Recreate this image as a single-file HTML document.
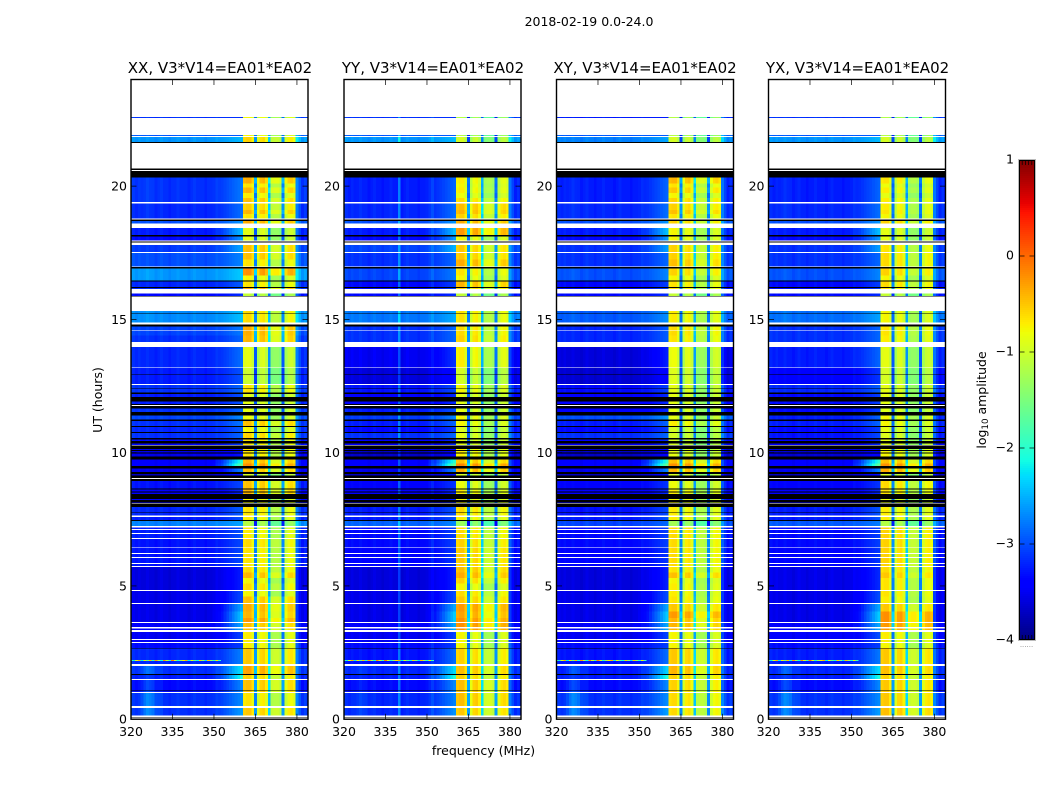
<!DOCTYPE html>
<html lang="en">
<head>
<meta charset="utf-8">
<title>2018-02-19 spectrogram</title>
<style>
html,body{margin:0;padding:0;background:#fff;}
svg{display:block;}
text{font-family:"DejaVu Sans","Liberation Sans",sans-serif;fill:#000;}
</style>
</head>
<body>
<svg id="fig" xmlns="http://www.w3.org/2000/svg" width="1050" height="800" viewBox="0 0 1050 800">
  <text x="589" y="26" font-size="12.5" text-anchor="middle">2018-02-19 0.0-24.0</text>
  <g id="panels"></g>
  <text x="220" y="73" font-size="15" text-anchor="middle">XX, V3*V14=EA01*EA02</text>
  <text x="433" y="73" font-size="15" text-anchor="middle">YY, V3*V14=EA01*EA02</text>
  <text x="645" y="73" font-size="15" text-anchor="middle">XY, V3*V14=EA01*EA02</text>
  <text x="857.5" y="73" font-size="15" text-anchor="middle">YX, V3*V14=EA01*EA02</text>
  <text x="483.5" y="755" font-size="12.5" text-anchor="middle">frequency (MHz)</text>
  <text transform="translate(102,400) rotate(-90)" font-size="12.5" text-anchor="middle">UT (hours)</text>
  <text transform="translate(986,400) rotate(-90)" font-size="12.5" text-anchor="middle">log<tspan font-size="8.7" dy="2">10</tspan><tspan dy="-2"> amplitude</tspan></text>
  <g id="colorbar"></g>
  <text x="1026.5" y="647" font-size="7" text-anchor="middle" style="fill:#888">......</text>
</svg>
<script>
// ---- axis data ----
const xTickLabels = [320, 335, 350, 365, 380];
const yTickLabels = [0, 5, 10, 15, 20];
const colorbarTicks = [1, 0, -1, -2, -3, -4];

// ---- channels (MHz) : offsets in log10 amplitude relative to the band level ----
const channelFreqs = [320,321,322,323,324,325,326,327,328,329,330,331,332,333,334,335,336,337,338,339,340,341,342,343,344,345,346,347,348,349,350,351,352,353,354,355,356,357,358,359,360,361,362,363,364,365,366,367,368,369,370,371,372,373,374,375,376,377,378,379,380,381,382,383,384];
const channelOffset = [0.1,0.05,0,0.05,0,0,0.05,0,0,-0.05,0,0.05,0,0,-0.05,0,0,0.05,0,0,0,-0.05,0,0.05,0,0,0,-0.05,0,0,0,0.05,0,0,0,0,0,0,0,0,0,0.05,0.1,0.1,-0.1,-2.0,-0.3,0,0.05,-0.15,-1.7,-0.45,-0.4,-0.4,-0.5,-2.0,-0.3,-0.1,-0.05,-0.15,0.45,0.2,0,0.1,0];
const shoulderShape = [0,0,0,0,0,0,0,0,0,0,0,0,0,0,0,0,0,0,0,0,0,0,0,0,0,0,0,0,0,0,0.05,0.1,0.15,0.2,0.3,0.4,0.5,0.6,0.7,0.8,0.9,0,0,0,0,0,0,0,0,0,0,0,0,0,0,0,0,0,0,0,0,0,0,0,0];
const glowShape = [0,0,0,0,0.25,0.5,0.6,0.6,0.5,0.3,0.2,0.1,0,0,0,0,0,0,0,0,0,0,0,0,0,0,0,0,0,0,0,0,0,0,0,0,0,0,0,0,0,0,0,0,0,0,0,0,0,0,0,0,0,0,0,0,0,0,0,0,0,0,0,0,0];
const rfiFirstMHz = 361;
const rfiLastMHz = 379;
const glowByPanel = [1, 0.3, 1, 1];
const yyBumpFreqs = [340, 352];
const yyBumpValues = [0.5, 0.15];
const bgShift = -0.15;
const rfiShift = -0.25;

// ---- time bands : each starts at bandTop (UT hours) and runs down to the next entry ----
const bandTop = [22.60,22.56,21.92,21.85,20.33,20.10,19.95,19.75,19.55,19.41,19.10,18.95,18.79,18.43,18.17,17.96,17.52,17.25,16.96,16.65,16.45,16.20,15.98,15.32,14.73,14.40,13.97,13.20,12.58,12.25,11.83,11.50,11.25,11.00,10.77,10.50,10.26,9.75,9.60,9.50,9.28,8.93,8.60,8.27,7.97,7.64,7.43,7.19,6.76,6.42,5.86,5.71,5.50,5.30,5.10,4.81,4.60,4.32,4.05,3.80,3.60,3.27,2.85,2.65,2.00,1.66,1.47,0.98,0.42];
const bandBottom = 0;
const bgXX = [-3.0,-3.0,-2.8,-2.5,-3.0,-3.0,-3.0,-3.0,-3.0,-3.05,-3.05,-3.05,-2.85,-3.1,-3.2,-2.95,-2.85,-2.85,-2.5,-2.5,-3.05,-3.05,-3.2,-2.55,-2.9,-3.0,-3.05,-3.1,-3.0,-3.1,-3.0,-2.9,-3.0,-3.05,-3.0,-3.2,-3.4,-3.3,-3.3,-3.4,-3.6,-3.15,-3.3,-3.3,-3.05,-3.1,-2.6,-3.1,-3.15,-3.15,-3.15,-3.45,-3.45,-3.45,-3.45,-3.4,-3.4,-3.4,-3.4,-3.4,-3.3,-3.35,-3.2,-3.05,-3.0,-3.1,-3.2,-3.0,-3.0];
const bgYY = [-3.0,-3.0,-2.8,-2.5,-3.1,-3.1,-3.1,-3.1,-3.1,-3.05,-3.05,-3.05,-2.85,-3.1,-3.2,-2.9,-3.0,-3.0,-2.9,-2.9,-3.2,-3.2,-3.2,-2.65,-3.0,-3.0,-3.35,-3.45,-3.15,-3.3,-3.1,-2.95,-3.1,-3.2,-3.0,-3.3,-3.55,-3.3,-3.3,-3.4,-3.6,-3.25,-3.3,-3.3,-3.1,-3.1,-2.75,-3.2,-3.2,-3.25,-3.25,-3.45,-3.45,-3.45,-3.45,-3.4,-3.4,-3.4,-3.4,-3.4,-3.3,-3.35,-3.2,-3.15,-3.05,-3.1,-3.2,-3.05,-3.05];
const bgXY = [-3.1,-3.1,-2.8,-2.6,-3.1,-3.1,-3.1,-3.1,-3.1,-3.05,-3.05,-3.05,-2.85,-3.1,-3.2,-3.0,-3.0,-3.0,-2.85,-2.85,-3.2,-3.2,-3.2,-2.8,-3.05,-3.05,-3.45,-3.5,-3.2,-3.3,-3.3,-2.85,-3.1,-3.2,-3.0,-3.3,-3.55,-3.3,-3.3,-3.4,-3.6,-3.25,-3.3,-3.3,-3.15,-3.1,-2.9,-3.2,-3.2,-3.25,-3.25,-3.45,-3.45,-3.45,-3.45,-3.4,-3.4,-3.4,-3.4,-3.4,-3.3,-3.35,-3.2,-3.15,-3.1,-3.1,-3.2,-3.0,-3.0];
const bgYX = [-3.0,-3.0,-2.8,-2.5,-3.1,-3.1,-3.1,-3.1,-3.1,-3.05,-3.05,-3.05,-2.85,-3.1,-3.2,-3.0,-3.0,-3.0,-2.85,-2.85,-3.2,-3.2,-3.2,-2.7,-3.0,-3.0,-3.1,-3.25,-3.05,-3.2,-3.2,-3.1,-3.1,-3.2,-3.15,-3.3,-3.5,-3.3,-3.3,-3.4,-3.6,-3.25,-3.3,-3.3,-3.1,-3.1,-2.8,-3.2,-3.2,-3.25,-3.25,-3.4,-3.4,-3.4,-3.4,-3.4,-3.4,-3.4,-3.4,-3.4,-3.3,-3.3,-3.2,-3.1,-3.05,-3.1,-3.2,-3.0,-3.0];
const rfiXX = [-0.6,-0.6,-0.6,-0.4,-0.2,-0.5,-0.25,-0.55,-0.3,-0.4,-0.25,-0.5,-0.2,-0.7,-0.7,-0.3,-0.3,-0.5,-0.05,-0.6,-0.5,-0.2,-0.9,-0.45,-0.2,-0.25,-0.7,-0.85,-0.5,-0.7,-0.7,-0.65,-0.3,-0.6,-0.4,-0.5,-0.5,-0.25,-0.05,-0.3,-0.8,-0.3,-0.25,-0.6,-0.5,-0.55,-1.0,-0.55,-0.45,-0.5,-0.5,-0.45,-0.25,-0.6,-0.45,-0.6,-0.3,-0.2,-0.25,-0.1,-0.3,-0.55,-0.55,-0.35,-0.15,-0.4,-0.3,-0.5,-0.35];
const rfiYY = [-1.0,-1.0,-1.0,-0.8,-0.55,-0.6,-0.55,-0.65,-0.45,-0.3,-0.25,-0.4,-0.2,-0.1,-0.6,-0.35,-0.35,-0.2,-0.5,-0.6,-0.25,-0.4,-0.9,-0.5,-0.45,-0.4,-0.55,-0.8,-0.6,-0.7,-0.7,-0.6,-0.6,-0.75,-0.7,-0.7,-0.55,-0.3,0,-0.2,-0.8,-0.65,-0.55,-0.6,-0.45,-0.55,-1.15,-0.45,-0.4,-0.35,-0.35,-0.3,-0.2,-0.4,-0.6,-0.45,-0.35,-0.1,-0.15,-0.05,-0.05,-0.6,-0.6,-0.4,-0.3,-0.4,-0.3,-0.3,-0.35];
const rfiXY = [-1.0,-1.0,-1.0,-0.8,-0.25,-0.5,-0.35,-0.6,-0.4,-0.4,-0.3,-0.5,-0.4,-0.6,-0.6,-0.4,-0.4,-0.3,-0.4,-0.6,-0.5,-0.5,-0.9,-0.55,-0.45,-0.5,-0.65,-0.75,-0.7,-0.7,-0.7,-0.7,-0.55,-0.8,-0.8,-0.8,-0.7,-0.3,-0.05,-0.25,-0.8,-0.65,-0.55,-0.6,-0.55,-0.55,-1.1,-0.45,-0.45,-0.45,-0.45,-0.5,-0.3,-0.6,-0.55,-0.55,-0.5,-0.35,-0.1,-0.25,-0.25,-0.6,-0.6,-0.35,-0.25,-0.4,-0.4,-0.45,-0.45];
const rfiYX = [-1.0,-1.0,-1.0,-0.8,-0.5,-0.65,-0.55,-0.7,-0.55,-0.55,-0.5,-0.6,-0.4,-0.7,-0.7,-0.5,-0.45,-0.45,-0.4,-0.6,-0.45,-0.5,-0.9,-0.6,-0.5,-0.55,-0.7,-0.8,-0.7,-0.7,-0.75,-0.6,-0.6,-0.7,-0.75,-0.7,-0.6,-0.3,-0.05,-0.2,-0.8,-0.45,-0.5,-0.7,-0.55,-0.55,-1.0,-0.4,-0.4,-0.4,-0.4,-0.45,-0.35,-0.5,-0.5,-0.5,-0.55,-0.35,-0.05,-0.05,-0.1,-0.55,-0.6,-0.35,-0.3,-0.4,-0.35,-0.35,-0.3];
const shoulder = [0,0,0,0.2,0.4,0.4,0.4,0.4,0.4,0.4,0.4,0.4,0.4,0.9,0.8,0.6,0.3,0.3,0.3,0.3,0.3,0.3,0.2,0.3,0.3,0.3,0.4,0.3,0.3,0.3,0.3,0.4,0.4,0.3,0.3,0.3,0.3,1.6,2.0,0.9,0.5,0.3,0.3,0.3,0.3,0.3,0.2,0.3,0.3,0.3,0.3,0.4,0.4,0.4,0.4,0.6,0.6,1.1,1.3,1.3,1.0,0.5,0.3,0.5,1.0,1.3,0.7,0.5,0.6];
const lowGlow = [0,0,0,0,0.1,0.1,0.1,0.1,0.1,0.1,0.1,0.1,0,0,0,0,0,0,0.1,0.1,0,0,0,0.1,0,0,0,0,0,0,0,0,0,0,0,0,0,0,0,0,0,0,0,0,0,0,0,0,0,0,0,0,0,0,0,0,0,0,0,0,0,0,0,0,0.5,0.2,0.5,0.7,0.7];
const bgByPanel = [bgXX, bgYY, bgXY, bgYX];
const rfiByPanel = [rfiXX, rfiYY, rfiXY, rfiYX];

// ---- narrow-band interference line near 2.2 h ----
const spikeHourTop = 2.225;
const spikeHourBottom = 2.19;
const spikeValues = [-1.6,-2.2,-0.9,-0.4,-2.2,-0.7,-1.5,-0.5,-2.0,-0.3,-1.2,-2.1,-0.2,-1.0,-1.9,-0.1,-0.9,-2.0,-1.3,-0.7,-0.4,-2.2,-0.8,-1.6,-2.1,-0.6,-1.4,-2.3,-0.5,-1.3,-2.0,-0.7,-1.9];

// ---- flagged (no data) rows, UT hours ----
const whiteStart = [24.00,22.56,21.88,21.62,20.61,19.41,18.79,18.59,17.96,17.88,17.52,16.99,16.14,15.85,14.88,14.60,14.15,13.20,12.58,11.79,10.29,9.05,8.12,7.64,7.25,7.13,6.99,6.80,6.45,6.24,6.08,5.86,5.75,4.85,4.36,3.64,3.46,3.34,3.00,2.89,2.07,1.50,1.02,0.50,0.13,0.07];
const whiteEnd =   [22.60,21.92,21.85,20.66,20.57,19.34,18.75,18.43,17.92,17.79,17.49,16.96,15.98,15.32,14.80,14.58,13.97,13.18,12.53,11.75,10.26,9.01,8.09,7.58,7.19,7.10,6.95,6.76,6.42,6.20,6.04,5.82,5.71,4.81,4.32,3.60,3.40,3.27,2.97,2.85,2.00,1.47,0.98,0.42,0.09,0.03];
const blackStart = [21.65,20.66,20.57,18.75,18.17,17.92,16.96,16.45,16.21,15.88,15.24,14.80,12.95,12.40,12.25,12.09,11.83,11.75,11.52,11.25,11.00,10.77,10.55,10.43,10.26,10.10,10.00,9.85,9.50,9.28,9.15,9.01,8.65,8.55,8.45,8.23,8.09,7.75,7.47,2.68,1.70,1.08,0.09];
const blackEnd =   [21.62,20.61,20.33,18.69,18.11,17.88,16.90,16.42,16.17,15.85,15.22,14.73,12.93,12.38,12.21,11.91,11.79,11.65,11.39,11.18,10.96,10.73,10.50,10.35,10.14,10.06,9.96,9.75,9.40,9.20,9.05,8.93,8.61,8.51,8.27,8.13,7.97,7.73,7.43,2.65,1.66,1.05,0.07];

// ---- layout ----
const SVGNS = 'http://www.w3.org/2000/svg';
const panelNames = ['xx', 'yy', 'xy', 'yx'];
const panelLeft = [131, 344, 556.5, 768.5];
const panelWidth = 177;
const plotTop = 79.5, plotBottom = 719.2;
const xMin = 320, xMax = 384, yMin = 0, yMax = 24;
const cbLeft = 1019, cbRight = 1035, cbTop = 160, cbBottom = 640, vMin = -4, vMax = 1;

function xScale(left, mhz) { return left + (mhz - xMin) / (xMax - xMin) * panelWidth; }
function yScale(h) { return plotBottom - (h - yMin) / (yMax - yMin) * (plotBottom - plotTop); }
function cbScale(v) { return cbBottom - (v - vMin) / (vMax - vMin) * (cbBottom - cbTop); }

function interp(points, t) {
  for (let i = 1; i < points.length; i++) {
    if (t <= points[i][0]) {
      const a = points[i - 1], b = points[i];
      return a[1] + (b[1] - a[1]) * (t - a[0]) / (b[0] - a[0]);
    }
  }
  return points[points.length - 1][1];
}
const jetR = [[0,0],[0.35,0],[0.66,1],[0.89,1],[1,0.5]];
const jetG = [[0,0],[0.125,0],[0.375,1],[0.64,1],[0.91,0],[1,0]];
const jetB = [[0,0.5],[0.11,1],[0.34,1],[0.65,0],[1,0]];
function jet(v) {
  const t = Math.max(0, Math.min(1, (v - vMin) / (vMax - vMin)));
  const c = p => Math.round(interp(p, t) * 255);
  return 'rgb(' + c(jetR) + ',' + c(jetG) + ',' + c(jetB) + ')';
}
function make(parent, tag, attrs) {
  const el = document.createElementNS(SVGNS, tag);
  for (const k in attrs) el.setAttribute(k, attrs[k]);
  parent.appendChild(el);
  return el;
}
function cellValue(p, b, c) {
  const f = channelFreqs[c];
  if (f >= rfiFirstMHz && f <= rfiLastMHz) return rfiByPanel[p][b] + rfiShift + channelOffset[c];
  let v = bgByPanel[p][b] + bgShift + channelOffset[c] + shoulder[b] * shoulderShape[c] + lowGlow[b] * glowByPanel[p] * glowShape[c];
  if (p === 1) {
    const i = yyBumpFreqs.indexOf(f);
    if (i >= 0) v += yyBumpValues[i];
  }
  return v;
}

const root = document.getElementById('panels');
const defs = make(document.getElementById('fig'), 'defs', {});
panelLeft.forEach(function (left, p) {
  const clipId = 'clip-' + panelNames[p];
  const clip = make(defs, 'clipPath', { id: clipId });
  make(clip, 'rect', { x: left, y: plotTop, width: panelWidth, height: plotBottom - plotTop });

  const g = make(root, 'g', {});
  
  
  const heat = make(g, 'g', { 'clip-path': 'url(#' + clipId + ')', 'shape-rendering': 'crispEdges' });
  
  

  // heatmap cells
  bandTop.forEach(function (top, b) {
    const bottom = b + 1 < bandTop.length ? bandTop[b + 1] : bandBottom;
    const y0 = yScale(top), y1 = yScale(bottom);
    channelFreqs.forEach(function (f, c) {
      const cell = make(heat, 'rect', {
        x: xScale(left, f - 0.5), y: y0,
        width: xScale(left, f + 0.5) - xScale(left, f - 0.5), height: y1 - y0,
        fill: jet(cellValue(p, b, c))
      });
      
      
    });
  });

  // interference line
  spikeValues.forEach(function (v, i) {
    const f = channelFreqs[i];
    const spike = make(heat, 'rect', {
      x: xScale(left, f - 0.5), y: yScale(spikeHourTop),
      width: xScale(left, f + 0.5) - xScale(left, f - 0.5),
      height: yScale(spikeHourBottom) - yScale(spikeHourTop), fill: jet(v)
    });
    
    
  });

  // flagged rows
  whiteStart.forEach(function (h, i) {
    const r = make(heat, 'rect', { x: left, y: yScale(h), width: panelWidth, height: yScale(whiteEnd[i]) - yScale(h), fill: '#fff' });
    
    
  });
  blackStart.forEach(function (h, i) {
    const r = make(heat, 'rect', { x: left, y: yScale(h), width: panelWidth, height: yScale(blackEnd[i]) - yScale(h), fill: '#000' });
    
    
  });

  // ticks
  xTickLabels.forEach(function (t) {
    const x = xScale(left, t);
    const tb = make(g, 'line', { x1: x, x2: x, y1: plotBottom, y2: plotBottom - 5.5, stroke: '#000', 'stroke-width': 0.7 });
    
    
    const tt = make(g, 'line', { x1: x, x2: x, y1: plotTop, y2: plotTop + 5.5, stroke: '#000', 'stroke-width': 0.7 });
    
    
    const lab = make(g, 'text', { x: x, y: 736, 'font-size': 12.5, 'text-anchor': 'middle' });
    
    
    lab.textContent = t;
  });
  yTickLabels.forEach(function (t) {
    const y = yScale(t);
    const tl = make(g, 'line', { x1: left, x2: left + 5.5, y1: y, y2: y, stroke: '#000', 'stroke-width': 0.7 });
    
    
    const tr = make(g, 'line', { x1: left + panelWidth, x2: left + panelWidth - 5.5, y1: y, y2: y, stroke: '#000', 'stroke-width': 0.7 });
    
    
    const lab = make(g, 'text', { x: left - 4, y: y + 4.5, 'font-size': 12.5, 'text-anchor': 'end' });
    
    
    lab.textContent = t;
  });

  // frame
  const frame = make(g, 'rect', { x: left, y: plotTop, width: panelWidth, height: plotBottom - plotTop, fill: 'none', stroke: '#000', 'stroke-width': 1.4 });
  
  
});

// ---- colorbar ----
const cb = document.getElementById('colorbar');
const cbStrip = make(cb, 'g', { 'shape-rendering': 'crispEdges' });


for (let y = cbTop; y < cbBottom; y += 2) {
  const v = vMin + (cbBottom - y - 1) / (cbBottom - cbTop) * (vMax - vMin);
  const s = make(cbStrip, 'rect', { x: cbLeft, y: y, width: cbRight - cbLeft, height: 2, fill: jet(v) });
  
  
}
colorbarTicks.forEach(function (v) {
  const y = cbScale(v);
  const a = make(cb, 'line', { x1: cbLeft, x2: cbLeft + 5.5, y1: y, y2: y, stroke: '#000', 'stroke-width': 0.7 });
  
  
  const b = make(cb, 'line', { x1: cbRight, x2: cbRight - 5.5, y1: y, y2: y, stroke: '#000', 'stroke-width': 0.7 });
  
  
  const lab = make(cb, 'text', { x: cbLeft - 5, y: y + 3.5, 'font-size': 12.5, 'text-anchor': 'end' });
  
  
  lab.textContent = String(v).replace('-', '\u2212');
});
[cbTop, cbBottom].forEach(function (edge) {
  const dir = edge === cbTop ? 1 : -1;
  for (let i = 1; i <= 4; i++) {
    const x = cbLeft + i * (cbRight - cbLeft) / 5;
    const m = make(cb, 'line', { x1: x, x2: x, y1: edge, y2: edge + dir * 5, stroke: '#000', 'stroke-width': 0.7 });
    
    
  }
});
const cbOuter = make(cb, 'rect', { x: cbLeft - 0.5, y: cbTop - 0.5, width: cbRight - cbLeft + 1, height: cbBottom - cbTop + 1, fill: 'none', stroke: '#bbb', 'stroke-width': 1 });


const cbFrame = make(cb, 'rect', { x: cbLeft + 0.5, y: cbTop + 0.5, width: cbRight - cbLeft - 1, height: cbBottom - cbTop - 1, fill: 'none', stroke: '#000', 'stroke-width': 1 });


</script>
</body>
</html>
